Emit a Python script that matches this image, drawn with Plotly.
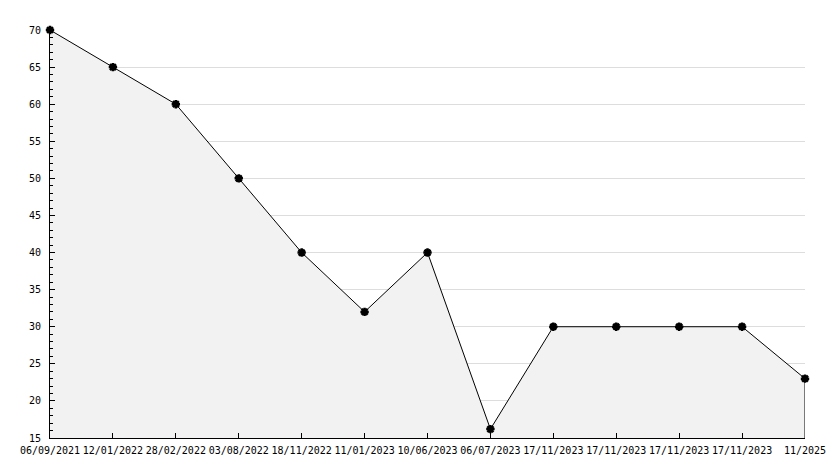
import plotly.graph_objects as go

# data
dates = ['06/09/2021', '12/01/2022', '28/02/2022', '03/08/2022', '18/11/2022',
         '11/01/2023', '10/06/2023', '06/07/2023', '17/11/2023', '17/11/2023',
         '17/11/2023', '17/11/2023', '11/2025']
values = [70, 65, 60, 50, 40, 32, 40, 16.2, 30, 30, 30, 30, 23]
y_min = 15
y_max = 70

xs = list(range(len(dates)))

fig = go.Figure()

# filled area under the line
fig.add_trace(go.Scatter(
    x=xs, y=values,
    mode='lines+markers',
    fill='tozeroy',
    fillcolor='#f2f2f2',
    line=dict(color='black', width=1),
    marker=dict(symbol='asterisk-open', size=7, color='black',
                line=dict(color='black', width=2.5)),
    hoverinfo='x+y',
    cliponaxis=False
))

# closing edge of the area at the last point
fig.add_trace(go.Scatter(
    x=[xs[-1], xs[-1]], y=[values[-1], y_min],
    mode='lines',
    line=dict(color='black', width=1),
    hoverinfo='skip'
))

# page body adds an 8px offset, margins compensate for it
fig.update_layout(
    width=834, height=468,
    margin=dict(l=42, r=37, t=22, b=38),
    plot_bgcolor='white',
    paper_bgcolor='white',
    showlegend=False,
    font=dict(family='DejaVu Sans Mono', size=10, color='black'),
    xaxis=dict(
        range=[0, len(dates) - 1],
        tickvals=xs,
        ticktext=dates,
        tickangle=0,
        automargin=False,
        showgrid=False,
        zeroline=False,
        showline=True,
        linecolor='black',
        linewidth=1,
        ticks='inside',
        ticklen=5,
        tickcolor='black',
        ticklabelstandoff=3,
    ),
    yaxis=dict(
        range=[y_min, y_max],
        dtick=5,
        tick0=0,
        automargin=False,
        showgrid=True,
        gridcolor='#dddddd',
        gridwidth=1,
        zeroline=False,
        showline=True,
        linecolor='black',
        linewidth=1,
        ticks='inside',
        ticklen=5,
        tickcolor='black',
        ticklabelstandoff=6,
        minor=dict(dtick=1, ticks='inside', ticklen=3, tickcolor='black', showgrid=False),
    ),
)

fig.write_html("out.html")
